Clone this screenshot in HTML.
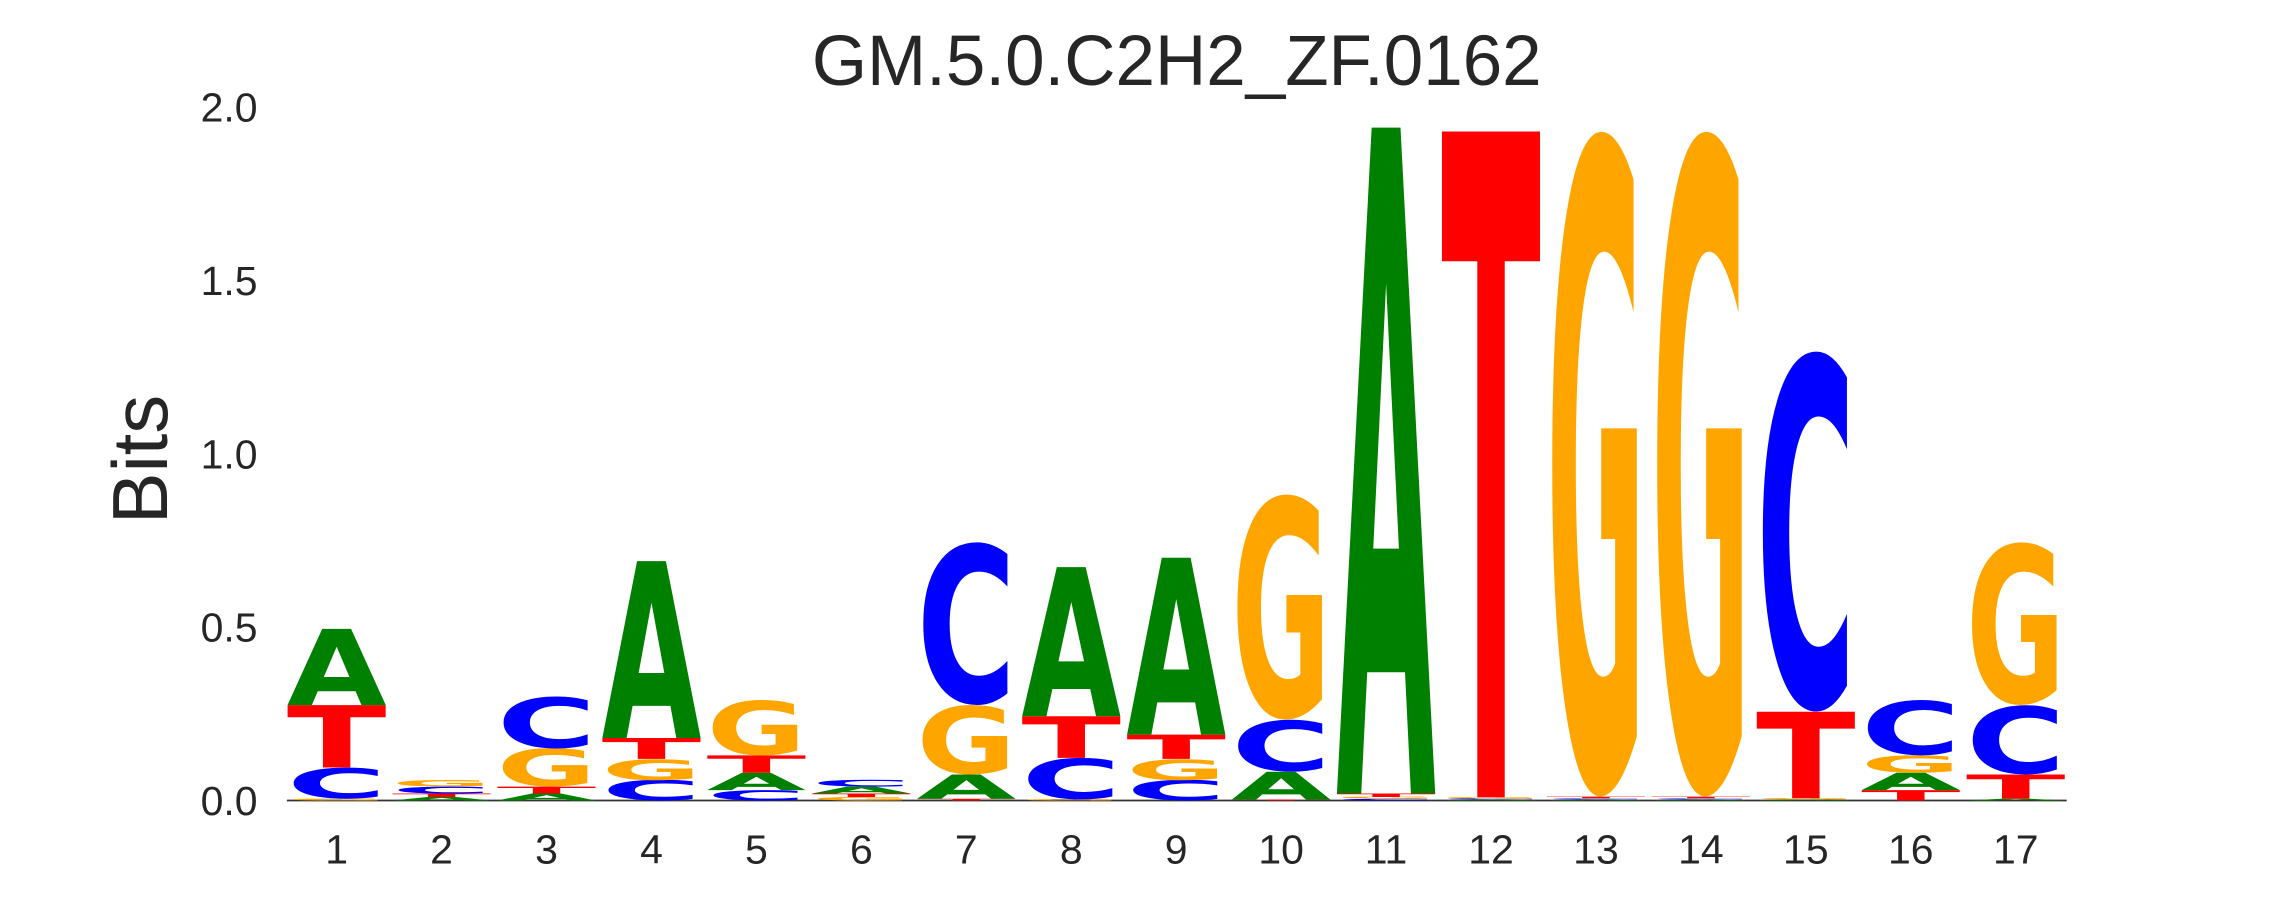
<!DOCTYPE html>
<html><head><meta charset="utf-8"><style>
html,body{margin:0;padding:0;background:#fff;width:2295px;height:900px;overflow:hidden;}
svg{display:block;font-family:"Liberation Sans","DejaVu Sans",sans-serif;}
</style></head><body>
<svg id="chart" width="2295" height="900" viewBox="0 0 1568 615" preserveAspectRatio="none" overflow="hidden">
<text x="804" y="58" font-size="48.5" text-anchor="middle" fill="#262626">GM.5.0.C2H2_ZF.0162</text>
<text transform="translate(114,314) rotate(-90)" font-size="53" text-anchor="middle" fill="#262626">Bits</text>
<g id="yticks"></g>
<g id="xticks"></g>
<line x1="196" y1="547" x2="1412" y2="547" stroke="#333" stroke-width="1.2"/>
<g id="letters"></g>
</svg>
<script>
const positions = [1,2,3,4,5,6,7,8,9,10,11,12,13,14,15,16,17];
const bitsA = [0.22,0.01,0.02,0.51,0.05,0.02,0.07,0.43,0.51,0.08,1.92,0.003,0.003,0.003,0.003,0.05,0.005];
const bitsC = [0.09,0.02,0.15,0.06,0.03,0.02,0.47,0.12,0.06,0.15,0.005,0.003,0.003,0.003,1.04,0.16,0.2];
const bitsG = [0.005,0.02,0.11,0.06,0.16,0.01,0.2,0.003,0.06,0.65,0.005,0.003,1.92,1.92,0.003,0.05,0.47];
const bitsT = [0.18,0.01,0.02,0.06,0.05,0.01,0.005,0.12,0.07,0.003,0.01,1.92,0.005,0.005,0.25,0.03,0.07];
const yTickValues = [0,0.5,1,1.5,2];
const yTickLabels = ["0.0","0.5","1.0","1.5","2.0"];

const NS = "http://www.w3.org/2000/svg";
const y0 = 547, pxPerBit = 237, x1 = 230, dx = 71.7, colW = 68;
function yScale(v){ return y0 - v*pxPerBit; }
function xScale(p){ return x1 + (p-1)*dx; }
const colors = {A:"#008000",C:"#0000ff",G:"#ffa500",T:"#ff0000"};
const adv = {A:0.774,C:0.734,G:0.821,T:0.682};
const capH = {A:0.729,C:0.758,G:0.758,T:0.729};
const below = {A:0,C:0.0145,G:0.0145,T:0};

const yt = document.getElementById('yticks');
yTickValues.forEach((v,i)=>{
  const t = document.createElementNS(NS,'text');
  
  
  t.setAttribute('x',176); t.setAttribute('y',yScale(v)+10);
  t.setAttribute('font-size','28'); t.setAttribute('text-anchor','end'); t.setAttribute('fill','#262626');
  t.textContent = yTickLabels[i]; yt.appendChild(t);
});
const xt = document.getElementById('xticks');
positions.forEach(p=>{
  const t = document.createElementNS(NS,'text');
  
  
  t.setAttribute('x',xScale(p)); t.setAttribute('y',590);
  t.setAttribute('font-size','28'); t.setAttribute('text-anchor','middle'); t.setAttribute('fill','#262626');
  t.textContent = p; xt.appendChild(t);
});
const lg = document.getElementById('letters');
positions.forEach((p,i)=>{
  const items = [['A',bitsA[i]],['C',bitsC[i]],['G',bitsG[i]],['T',bitsT[i]]].sort((a,b)=>a[1]-b[1]);
  let acc = 0;
  items.forEach(([b,h])=>{
    const yb = yScale(acc), yt2 = yScale(acc+h);
    acc += h;
    const hp = yb - yt2; if (hp < 0.3) return;
    const sx = colW/(adv[b]*100), sy = hp/(capH[b]*100);
    const ybase = yb - below[b]*100*sy;
    const t = document.createElementNS(NS,'text');
    
    
    t.setAttribute('transform','translate('+xScale(p)+','+ybase+') scale('+sx+','+sy+')');
    t.setAttribute('font-size','100'); t.setAttribute('font-weight','bold');
    t.setAttribute('font-family','"DejaVu Sans",sans-serif');
    t.setAttribute('text-anchor','middle'); t.setAttribute('fill',colors[b]);
    t.textContent = b; lg.appendChild(t);
  });
});
</script>
</body></html>
